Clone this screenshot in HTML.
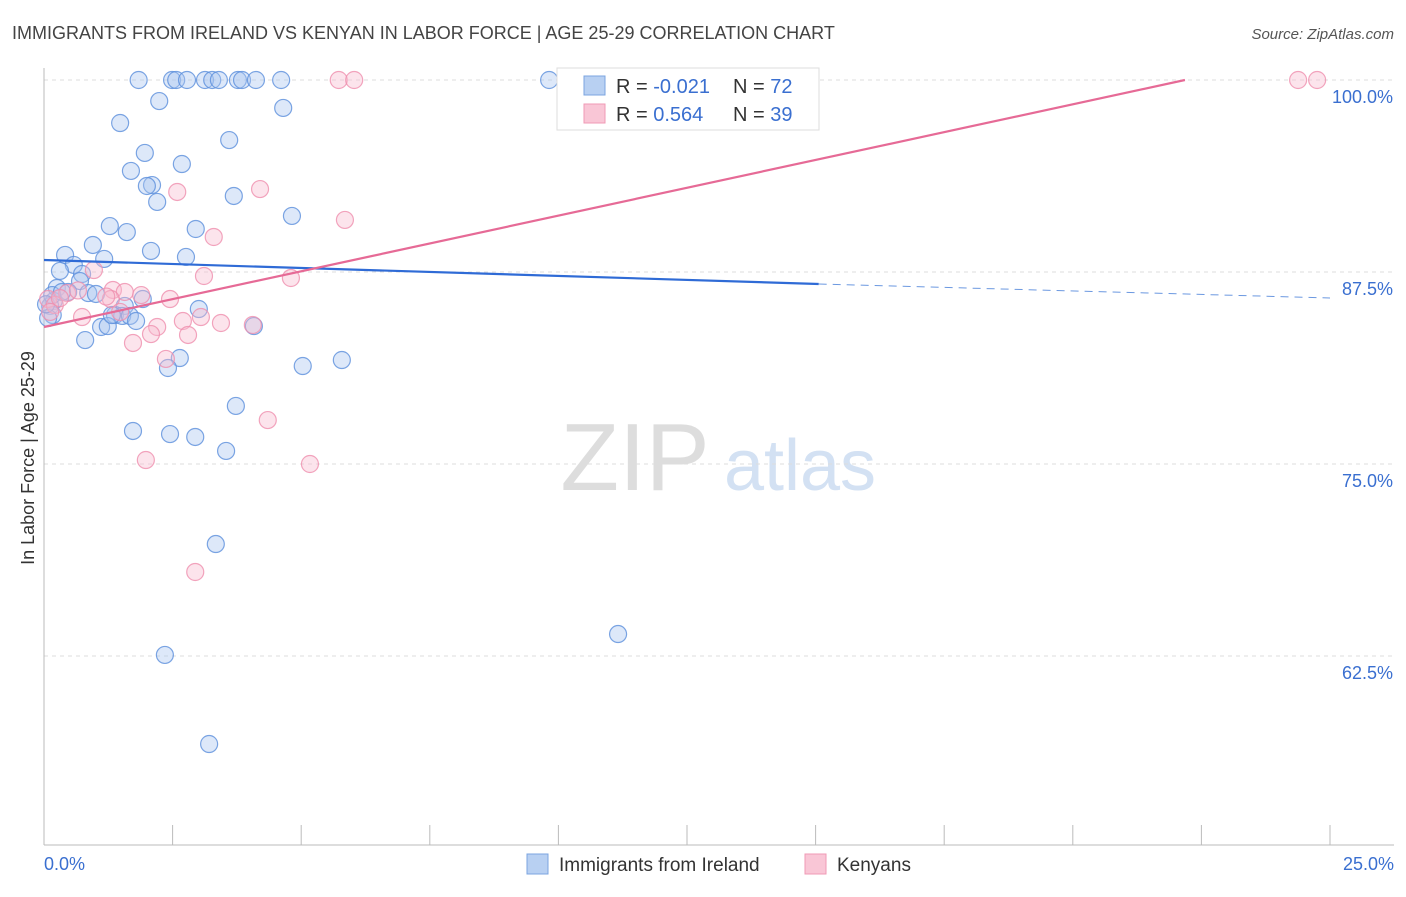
<!DOCTYPE html>
<html><head><meta charset="utf-8"><style>
body{margin:0;background:#fff;font-family:"Liberation Sans",sans-serif;}
svg text{font-family:"Liberation Sans",sans-serif;}
</style></head><body>
<svg id="c" width="1406" height="892" xmlns="http://www.w3.org/2000/svg">
<text x="12" y="39" font-size="18" fill="#444">IMMIGRANTS FROM IRELAND VS KENYAN IN LABOR FORCE | AGE 25-29 CORRELATION CHART</text>
<text x="1394" y="39" font-size="15" fill="#555" font-style="italic" text-anchor="end">Source: ZipAtlas.com</text>
<text x="34" y="458" font-size="18" fill="#333" text-anchor="middle" transform="rotate(-90 34 458)">In Labor Force | Age 25-29</text>
<g><text x="635" y="490" font-size="96" fill="#ddd" font-family="Liberation Serif" text-anchor="middle">ZIP</text><text x="800" y="490" font-size="72" fill="#d3e1f3" text-anchor="middle">atlas</text></g>
<g id="grid"></g><g id="axes"></g><g id="pts"></g><g id="lines"></g>
<g>
<rect x="557" y="68" width="262" height="62" fill="#fff" stroke="#ddd"/>
<rect x="584" y="76" width="21" height="19" fill="#b8d0f2" stroke="#7ba4e0"/>
<rect x="584" y="104" width="21" height="19" fill="#f9c6d6" stroke="#f09ab5"/>
<text x="616" y="93" font-size="20" fill="#333">R = <tspan fill="#3a6fd0">-0.021</tspan></text>
<text x="733" y="93" font-size="20" fill="#333">N = <tspan fill="#3a6fd0">72</tspan></text>
<text x="616" y="121" font-size="20" fill="#333">R = <tspan fill="#3a6fd0"> 0.564</tspan></text>
<text x="733" y="121" font-size="20" fill="#333">N = <tspan fill="#3a6fd0">39</tspan></text>
</g>
<g>
<rect x="527" y="854" width="21" height="20" fill="#b8d0f2" stroke="#7ba4e0"/>
<text x="559" y="871" font-size="19" fill="#333">Immigrants from Ireland</text>
<rect x="805" y="854" width="21" height="20" fill="#f9c6d6" stroke="#f09ab5"/>
<text x="837" y="871" font-size="19" fill="#333">Kenyans</text>
</g>
</svg>
<script>
const yTicks=[100,87.5,75,62.5];
const yTickLabels=["100.0%","87.5%","75.0%","62.5%"];
const xTickLabels=["0.0%","25.0%"];
const blueX=[1.84,2.49,2.57,2.78,3.13,3.27,3.40,3.77,3.85,4.12,4.61,9.82,2.24,4.65,1.48,3.60,1.96,2.68,1.69,2.10,2.00,2.20,3.69,4.82,1.28,1.61,2.95,0.95,2.08,0.41,2.76,1.17,0.58,0.31,0.74,0.70,0.25,0.47,0.86,1.01,0.19,0.12,1.92,1.57,3.01,0.17,1.38,1.52,1.67,1.79,1.11,1.24,4.08,0.80,2.64,2.41,5.03,5.79,3.73,1.73,2.45,2.94,3.54,3.34,11.16,2.35,3.21,0.08,0.16,1.32,0.35,0.04];
const blueY=[100,100,100,100,100,100,100,100,100,100,100,100,98.63,98.18,97.2,96.09,95.25,94.53,94.08,93.16,93.1,92.06,92.45,91.15,90.49,90.1,90.3,89.26,88.87,88.61,88.48,88.35,87.96,87.57,87.37,86.91,86.46,86.2,86.13,86.07,85.61,85.29,85.74,85.29,85.09,84.70,84.70,84.64,84.64,84.31,83.92,83.98,83.98,83.07,81.9,81.25,81.38,81.77,78.78,77.15,76.95,76.76,75.85,69.79,63.93,62.57,56.77,84.5,86.0,84.7,86.2,85.4];
const pinkX=[5.73,6.03,10.34,24.38,24.75,2.59,4.2,5.85,3.3,3.11,4.8,0.97,1.34,1.57,1.89,2.45,1.30,0.45,0.08,0.21,0.74,2.70,3.05,3.44,2.20,2.08,2.80,1.73,2.37,4.06,4.35,1.98,5.17,2.94,0.12,0.31,0.66,1.48,1.21];
const pinkY=[100,100,100,100,100,92.71,92.9,90.89,89.78,87.24,87.11,87.63,86.33,86.2,86.0,85.74,85.74,86.13,85.74,85.35,84.57,84.31,84.57,84.18,83.92,83.46,83.4,82.88,81.84,84.05,77.86,75.26,75.0,67.97,84.9,85.8,86.3,84.9,85.9];
const blueLine=[[0,88.28],[15.06,86.72]], blueDash=[[15.06,86.72],[25,85.81]];
const pinkLine=[[0,83.92],[22.18,100]];
const X=v=>44+v*51.44, Y=v=>80+(100-v)*15.36;
const NS="http://www.w3.org/2000/svg";
function mk(t,p,a){const e=document.createElementNS(NS,t);for(const k in a)e.setAttribute(k,a[k]);p.appendChild(e);return e;}
const g=document.getElementById('grid'),ax=document.getElementById('axes'),P=document.getElementById('pts'),L=document.getElementById('lines');
yTicks.forEach((v,i)=>{
 const l=mk('line',g,{x1:44,x2:1394,y1:Y(v),y2:Y(v),stroke:'#ddd','stroke-dasharray':'4,4'});
 
 
 const t=mk('text',ax,{x:1393,y:Y(v)+23,'font-size':18,fill:'#3a6fd0','text-anchor':'end'});
 t.textContent=yTickLabels[i];
 
 
});
mk('line',ax,{x1:44,x2:44,y1:68,y2:845,stroke:'#bbb'});
mk('line',ax,{x1:44,x2:1394,y1:845,y2:845,stroke:'#bbb'});
for(let i=0;i<=10;i++){mk('line',ax,{x1:X(i*2.5),x2:X(i*2.5),y1:825,y2:845,stroke:'#bbb'});}
[[0,'start',44],[1,'end',1394]].forEach(([i,a,x])=>{const t=mk('text',ax,{x:x,y:870,'font-size':18,fill:'#3a6fd0','text-anchor':a});t.textContent=xTickLabels[i];
 
 });
function dots(xs,ys,fill,stroke,name){xs.forEach((x,i)=>{const c=mk('circle',P,{cx:X(x),cy:Y(ys[i]),r:8.5,fill:fill,'fill-opacity':0.4,stroke:stroke,'stroke-opacity':0.8,'stroke-width':1.2});
 
 });}
dots(blueX,blueY,'#a9c6f0','#5b8fdc','point-ireland');
dots(pinkX,pinkY,'#f7bccf','#ef8fae','point-kenyans');
function ln(pts,col,dash,name){const l=mk('line',L,{x1:X(pts[0][0]),y1:Y(pts[0][1]),x2:X(pts[1][0]),y2:Y(pts[1][1]),stroke:col,'stroke-width':dash?1:2.2});if(dash)l.setAttribute('stroke-dasharray','8,6');
 
 }
ln(blueLine,'#2f6bd6',false,'trend-line-ireland');
ln(blueDash,'#6b98e0',true,'trend-line-ireland-extrapolated');
ln(pinkLine,'#e66a96',false,'trend-line-kenyans');
</script>
</body></html>
